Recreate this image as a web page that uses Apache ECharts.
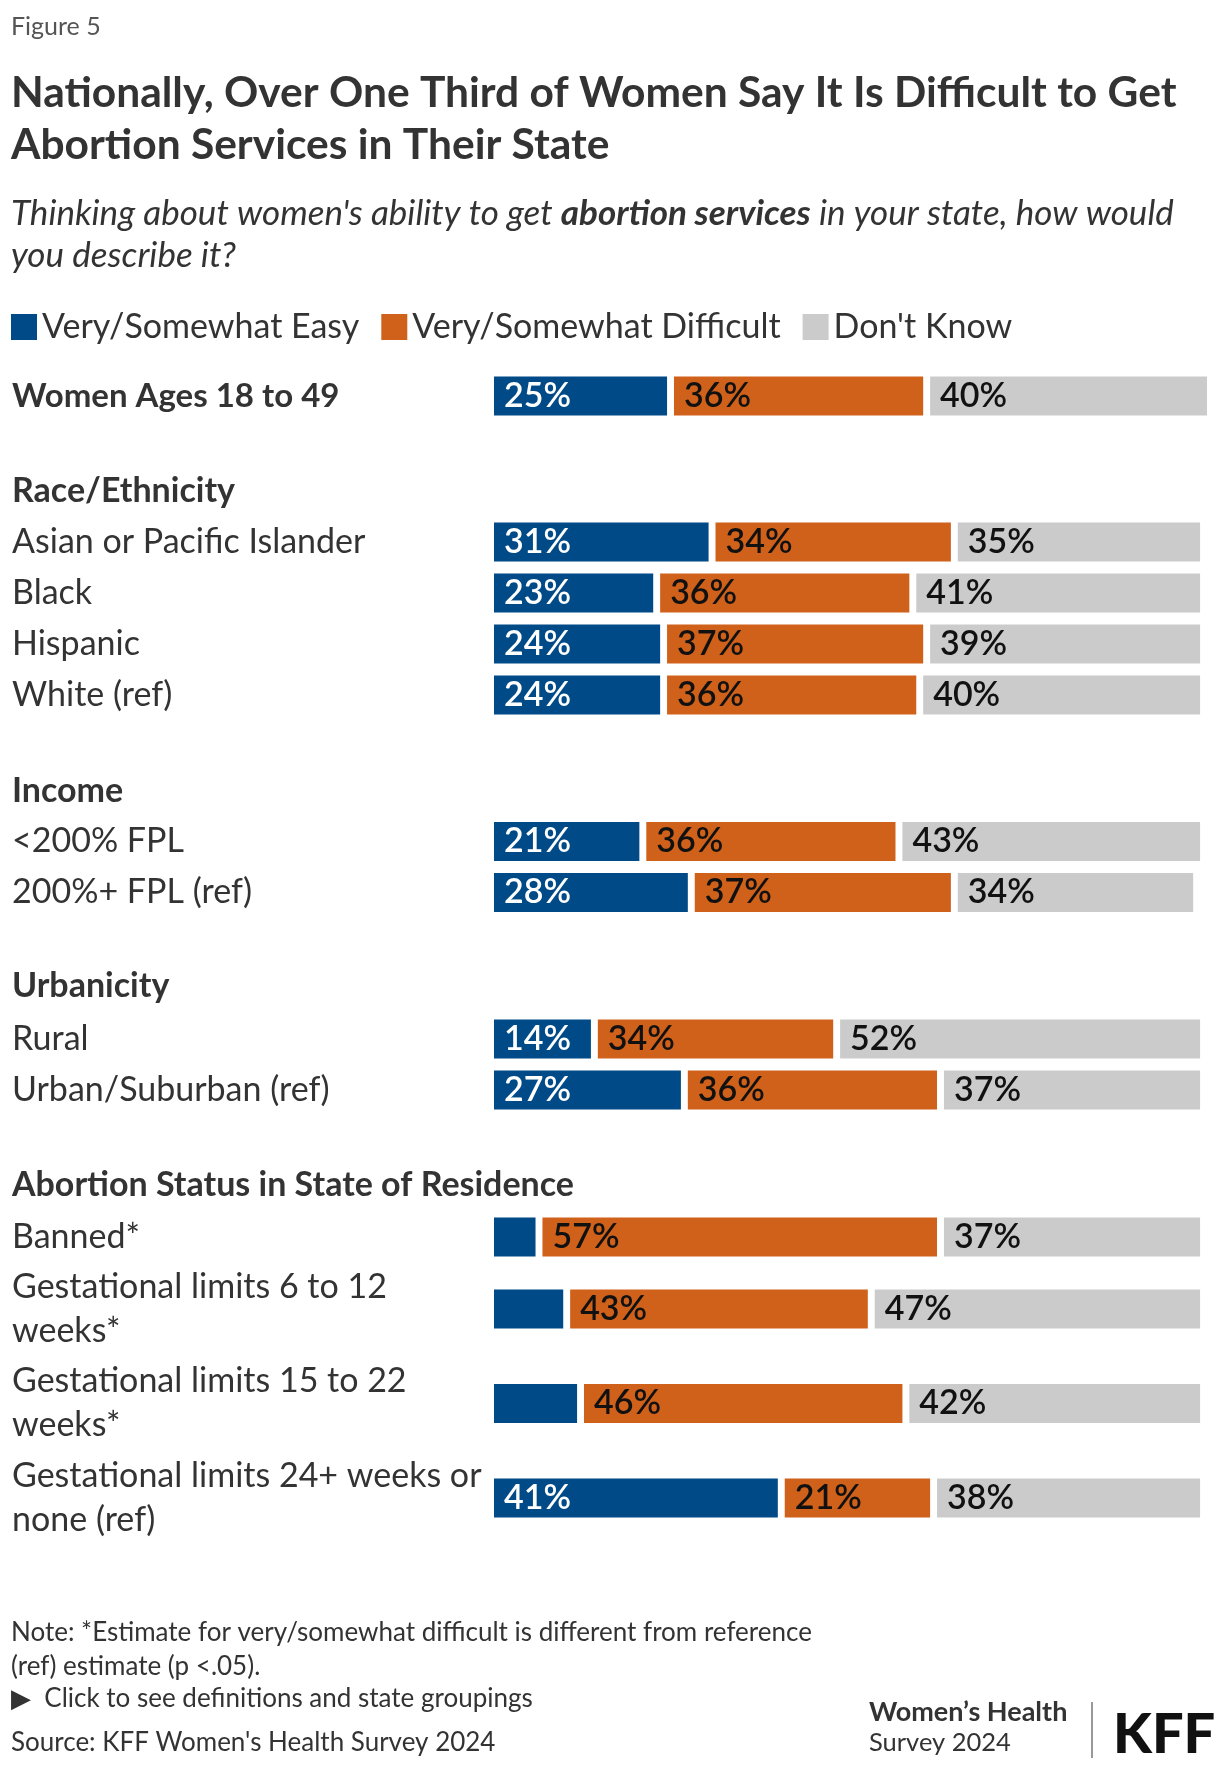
<!DOCTYPE html>
<html>
<head>
<meta charset="utf-8">
<script src="https://cdn.jsdelivr.net/npm/echarts@6/dist/echarts.min.js"></script>
<style>
html,body{margin:0;padding:0;background:#fff;}
#chart{width:1220px;height:1770px;}
</style>
</head>
<body>
<div id="chart"></div>
<script>
// ---------- data ----------
const seriesNames = ['Very/Somewhat Easy', 'Very/Somewhat Difficult', "Don't Know"];
const categories = [
  'Women Ages 18 to 49',
  'Asian or Pacific Islander', 'Black', 'Hispanic', 'White (ref)',
  '<200% FPL', '200%+ FPL (ref)',
  'Rural', 'Urban/Suburban (ref)',
  'Banned*',
  'Gestational limits 6 to 12\nweeks*',
  'Gestational limits 15 to 22\nweeks*',
  'Gestational limits 24+ weeks or\nnone (ref)'
];
const easy      = [25, 31, 23, 24, 24, 21, 28, 14, 27, 6, 10, 12, 41];
const difficult = [36, 34, 36, 37, 36, 36, 37, 34, 36, 57, 43, 46, 21];
const dontKnow  = [40, 35, 41, 39, 40, 43, 34, 52, 37, 37, 47, 42, 38];
const sectionHeaders = ['Race/Ethnicity', 'Income', 'Urbanicity', 'Abortion Status in State of Residence'];

// ---------- layout ----------
const FONT = 'Lato, "Noto Sans", sans-serif';
const colors = ['#004b87', '#d0611a', '#cbcbcb'];
const labelColors = ['#ffffff', '#111111', '#111111'];
const GAP = 1;          // white gap between segments, in axis units
const XMAX = 103;
const LEFT = 494, RIGHT = 1220 - 1207;
// grids: [startIndex, endIndex, top, height]
const gridDefs = [
  [0, 1, 371, 50],
  [1, 5, 516.5, 204],
  [5, 7, 816, 102],
  [7, 9, 1013.5, 102],
  [9, 10, 1211.5, 51],
  [10, 13, 1261.75, 283.5]
];
const headerY = [490, 790, 985, 1184];

const grid = [], xAxis = [], yAxis = [], series = [];
const values = [easy, difficult, dontKnow];
gridDefs.forEach((g, gi) => {
  const [s, e, top, h] = g;
  grid.push({left: LEFT, right: RIGHT, top: top, height: h});
  xAxis.push({type: 'value', gridIndex: gi, min: 0, max: XMAX, show: false});
  yAxis.push({
    type: 'category', gridIndex: gi, inverse: true,
    data: categories.slice(s, e),
    axisLine: {show: false}, axisTick: {show: false}, splitLine: {show: false},
    axisLabel: {
      align: 'left', margin: LEFT - 12, fontFamily: FONT, fontSize: gi === 0 ? 33 : 34,
      fontWeight: gi === 0 ? 'bold' : 'normal', color: '#333', lineHeight: 44
    }
  });
  values.forEach((arr, k) => {
    series.push({
      name: seriesNames[k], type: 'bar', stack: 's' + gi,
      xAxisIndex: gi, yAxisIndex: gi, barWidth: 39,
      itemStyle: {color: colors[k]},
      label: {
        show: true, position: 'insideLeft', distance: 10,
        fontFamily: FONT, fontSize: 34, fontWeight: 600, color: labelColors[k],
        formatter: p => (k === 0 && p.value < 13) ? '' : p.value + '%'
      },
      emphasis: {disabled: true},
      data: arr.slice(s, e)
    });
    if (k < 2) {
      series.push({
        name: 'gap', type: 'bar', stack: 's' + gi,
        xAxisIndex: gi, yAxisIndex: gi, barWidth: 39,
        itemStyle: {color: 'rgba(0,0,0,0)'}, silent: true,
        data: arr.slice(s, e).map(() => GAP)
      });
    }
  });
});

const graphic = [
  {type: 'text', left: 11, top: 14, style: {text: 'Figure 5', font: '25px ' + FONT, fill: '#555'}},
  {type: 'text', left: 11, top: 67, style: {
    text: 'Nationally, Over One Third of Women Say It Is Difficult to Get\nAbortion Services in Their State',
    font: 'bold 42.5px ' + FONT, fill: '#333', lineHeight: 52}},
  {type: 'text', left: 11, top: 196, style: {
    text: "{i|Thinking about women's ability to get }{b|abortion services}{i| in your state, how would}\n{i|you describe it?}",
    rich: {
      i: {font: 'italic 35px ' + FONT, fill: '#333', lineHeight: 42},
      b: {font: 'italic bold 35px ' + FONT, fill: '#333', lineHeight: 42}
    }}},
  // footer
  {type: 'text', left: 11, top: 1616, style: {
    text: 'Note: *Estimate for very/somewhat difficult is different from reference\n(ref) estimate (p <.05).',
    font: '26px ' + FONT, fill: '#333', lineHeight: 34}},
  {type: 'text', left: 11, top: 1686, style: {text: '\u25B6  Click to see definitions and state groupings', font: '26px ' + FONT, fill: '#333'}},
  {type: 'text', left: 11, top: 1730, style: {text: "Source: KFF Women's Health Survey 2024", font: '26px ' + FONT, fill: '#333'}},
  {type: 'text', left: 869, top: 1699, style: {text: 'Women\u2019s Health', font: 'bold 27px ' + FONT, fill: '#333'}},
  {type: 'text', left: 869, top: 1730, style: {text: 'Survey 2024', font: '25.5px ' + FONT, fill: '#333'}},
  {type: 'line', shape: {x1: 1092, y1: 1702, x2: 1092, y2: 1758}, style: {stroke: '#333', lineWidth: 1}},
  {type: 'text', left: 1113, top: 1707, style: {text: 'KFF', font: '900 56px ' + FONT, fill: '#111'}}
];
sectionHeaders.forEach((t, i) => {
  graphic.push({type: 'text', left: 12, top: headerY[i] - 16, style: {text: t, font: 'bold 34px ' + FONT, fill: '#333'}});
});

const chart = echarts.init(document.getElementById('chart'), null, {renderer: 'canvas'});
chart.setOption({
  animation: false,
  backgroundColor: '#fff',
  legend: {
    data: seriesNames, left: 11, top: 310, padding: 0, icon: 'rect', itemWidth: 26, itemHeight: 26,
    itemGap: 22, selectedMode: false,
    textStyle: {fontFamily: FONT, fontSize: 34, color: '#333'}
  },
  grid, xAxis, yAxis, series, graphic
});
</script>
</body>
</html>
